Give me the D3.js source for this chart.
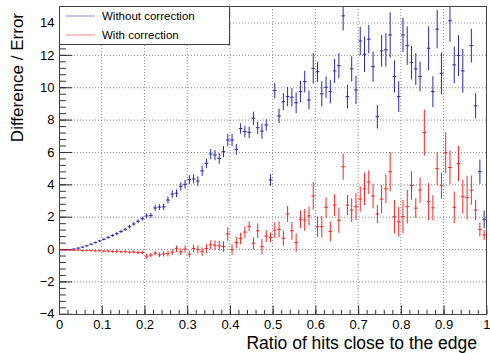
<!DOCTYPE html>
<html>
<head>
<meta charset="utf-8">
<script src="https://cdn.jsdelivr.net/npm/d3@7"></script>
<style>
	body { margin: 0; background: #fff; }
	svg { display: block; }
	text { font-family: "Liberation Sans", Arial, Helvetica, sans-serif; fill: #000; }
</style>
</head>
<body>
<svg id="chart" width="490" height="353"></svg>
<script>
"use strict"

// histogram binning along x
var nBins = 100;
var xLo = 0, xHi = 1;

// difference / error, no correction applied (null = off scale)
var withoutVals = [
	-0.05, -0.05, -0.04, 0.0, 0.06, 0.12, 0.2, 0.3, 0.4, 0.5,
	0.6, 0.72, 0.84, 0.95, 1.08, 1.22, 1.38, 1.55, 1.72, 1.88,
	2.05, 2.08, 2.54, 2.59, 2.61, 3.03, 3.4, 3.45, 3.88, 4.0,
	4.29, 4.33, 4.2, 4.83, 5.3, 5.87, 5.81, 5.6, 6.02, 6.74,
	6.74, 6.16, 7.45, 7.26, 7.21, 8.08, 7.5, 7.29, 7.67, 4.27,
	9.79, 8.23, 9.11, 9.42, 9.38, 9.04, 9.73, 10.35, 9.21, 11.17,
	10.96, 9.59, 10.0, 9.73, 11.01, 11.33, 14.41, 9.42, 11.13, 9.83,
	12.86, 12.04, 12.97, 11.27, 8.18, 12.25, 12.31, 13.23, 10.66, 9.42,
	13.23, 12.57, 11.52, 11.13, 10.66, null, 12.41, 9.73, 13.59, 10.86,
	null, 14.11, 11.38, 11.96, 11.01, null, 12.57, 8.85, 4.78, 1.84
];
var withoutErrs = [
	0.04, 0.04, 0.04, 0.04, 0.05, 0.05, 0.05, 0.06, 0.06, 0.07,
	0.07, 0.08, 0.08, 0.09, 0.09, 0.1, 0.11, 0.11, 0.12, 0.13,
	0.15, 0.16, 0.18, 0.18, 0.2, 0.22, 0.23, 0.24, 0.26, 0.27,
	0.28, 0.28, 0.3, 0.31, 0.3, 0.32, 0.32, 0.33, 0.34, 0.38,
	0.38, 0.33, 0.32, 0.35, 0.35, 0.41, 0.38, 0.47, 0.35, 0.36,
	0.49, 0.45, 0.53, 0.6, 0.57, 0.64, 0.67, 0.67, 0.58, 0.95,
	0.62, 0.78, 0.67, 0.73, 0.75, 0.78, 0.9, 0.73, 0.78, 0.87,
	0.88, 1.1, 0.88, 0.93, 0.73, 0.98, 1.04, 1.4, 1.0, 0.95,
	1.06, 1.19, 1.04, 0.98, 0.93, 0, 1.35, 0.95, 1.19, 1.3,
	0, 1.3, 1.14, 1.26, 1.35, 0, 1.04, 0.78, 0.75, 0.55
];

// difference / error after the correction
var withVals = [
	-0.04, -0.06, -0.05, -0.07, -0.06, -0.09, -0.08, -0.1, -0.11, -0.1,
	-0.13, -0.12, -0.15, -0.14, -0.17, -0.16, -0.19, -0.18, -0.21, -0.21,
	-0.44, -0.37, -0.25, -0.36, -0.3, -0.28, -0.19, 0.02, -0.17, 0.0,
	-0.32, 0.04, -0.02, -0.16, 0.03, 0.26, 0.24, 0.2, 0.15, 0.93,
	-0.04, 0.4, 0.65, 1.05, 1.41, 0.36, 1.13, 0.15, 0.8, 0.72,
	1.17, 1.22, 0.67, 2.17, 1.13, 0.4, 1.84, 1.8, 2.05, 3.28,
	1.38, 1.38, 2.58, 1.09, 2.72, 1.78, 5.09, 2.72, 2.41, 2.62,
	3.09, 3.72, 4.14, 3.28, 2.17, 3.09, 3.72, 4.78, 2.0, 1.69,
	2.0, 2.62, 3.93, 2.53, 3.65, 7.2, 2.93, 2.55, 4.97, 3.92,
	5.95, 5.04, 2.58, 5.28, 3.24, 3.18, 3.64, 2.41, 1.22, 0.87
];
var withErrs = [
	0.03, 0.03, 0.04, 0.04, 0.04, 0.05, 0.05, 0.05, 0.06, 0.06,
	0.07, 0.07, 0.08, 0.08, 0.08, 0.09, 0.09, 0.1, 0.1, 0.11,
	0.17, 0.13, 0.14, 0.15, 0.16, 0.17, 0.18, 0.2, 0.2, 0.22,
	0.2, 0.24, 0.25, 0.26, 0.27, 0.28, 0.3, 0.3, 0.32, 0.42,
	0.33, 0.35, 0.36, 0.35, 0.3, 0.37, 0.45, 0.47, 0.37, 0.31,
	0.49, 0.49, 0.47, 0.49, 0.55, 0.57, 0.55, 0.67, 0.58, 0.85,
	0.62, 0.67, 0.62, 0.62, 0.67, 0.78, 0.81, 0.62, 0.73, 0.83,
	0.78, 1.0, 0.73, 0.76, 0.57, 0.88, 0.88, 1.22, 1.04, 0.91,
	1.04, 1.04, 0.88, 0.62, 0.78, 1.42, 1.14, 0.78, 1.02, 0.8,
	1.26, 1.04, 0.98, 1.09, 1.04, 1.35, 0.9, 0.64, 0.43, 0.3
];

var xMajor = [0, 0.1, 0.2, 0.3, 0.4, 0.5, 0.6, 0.7, 0.8, 0.9, 1];
var yMajor = [-4, -2, 0, 2, 4, 6, 8, 10, 12, 14];
var seriesNames = ["Without correction", "With correction"];
var seriesColors = ["#2a2aa8", "#f02828"];

var frame = {left: 59, top: 6, right: 487, bottom: 314};

var x = d3.scaleLinear()
	.domain([xLo, xHi])
	.range([frame.left, frame.right - 0.7]);
var y = d3.scaleLinear()
	.domain([-4, 15.02])
	.range([frame.bottom - 0.2, frame.top]);

var svg = d3.select("#chart");
var binW = (xHi - xLo) / nBins;

svg.append("defs")
	.append("clipPath")
	.attr("id", "frameClip")
	.append("rect")
	.attr("x", frame.left)
	.attr("y", frame.top)
	.attr("width", frame.right - frame.left)
	.attr("height", frame.bottom - frame.top)
	;

// dotted grid at the major ticks
var grid = svg.append("g")
	.attr("stroke", "#8a8a8a")
	.attr("stroke-width", 1)
	.attr("stroke-dasharray", "1,2")
	;
grid.selectAll("line.gx")
	.data(xMajor.slice(1, -1))
	.enter().append("line")
	.attr("class", "gx")
	.attr("x1", function(d) { return x(d); })
	.attr("x2", function(d) { return x(d); })
	.attr("y1", frame.top)
	.attr("y2", frame.bottom)
	;
grid.selectAll("line.gy")
	.data(yMajor.slice(1))
	.enter().append("line")
	.attr("class", "gy")
	.attr("x1", frame.left)
	.attr("x2", frame.right)
	.attr("y1", function(d) { return y(d) + 0.5; })
	.attr("y2", function(d) { return y(d) + 0.5; })
	;

// axes, ticks point into the frame
var xMinor = d3.range(0, 51).map(function(i) { return i * 0.02; });
var yMinor = d3.range(0, 48).map(function(i) { return -4 + i * 0.4; });

var xAxisG = svg.append("g")
	.attr("transform", "translate(0," + (frame.bottom + 0.5) + ")")
	;
xAxisG.append("g")
	.call(d3.axisBottom(x).tickValues(xMinor).tickSize(-4.6).tickSizeOuter(0).tickFormat(""))
	;
xAxisG.append("g")
	.call(d3.axisBottom(x).tickValues(xMajor).tickSize(-9.2).tickSizeOuter(0).tickPadding(5)
		.tickFormat(function(d) { return d == 0 || d == 1 ? d3.format("d")(d) : d3.format(".1f")(d); }))
	;
xAxisG.selectAll("text")
	.attr("font-size", 13)
	;

var yAxisG = svg.append("g")
	.attr("transform", "translate(" + (frame.left + 0.5) + ",0)")
	;
yAxisG.append("g")
	.call(d3.axisLeft(y).tickValues(yMinor).tickSize(-6.4).tickSizeOuter(0).tickFormat(""))
	;
yAxisG.append("g")
	.call(d3.axisLeft(y).tickValues(yMajor).tickSize(-12.8).tickSizeOuter(0).tickPadding(5)
		.tickFormat(d3.format("d")))
	;
yAxisG.selectAll("text")
	.attr("font-size", 13)
	;
svg.selectAll(".domain").remove();
svg.selectAll(".tick line")
	.attr("stroke", "#333")
	;

// points with error bars, one group per series
function drawSeries(vals, errs, color) {
	var pts = vals.map(function(v, i) {
		return {xc: xLo + (i + 0.5) * binW, v: v, e: errs[i]};
	}).filter(function(d) { return d.v != null; });
	var g = svg.append("g")
		.attr("clip-path", "url(#frameClip)")
		.attr("stroke", color)
		.attr("stroke-width", 1)
		;
	g.selectAll("line.ex")
		.data(pts)
		.enter().append("line")
		.attr("class", "ex")
		.attr("x1", function(d) { return x(d.xc - binW / 2) + 0.3; })
		.attr("x2", function(d) { return x(d.xc + binW / 2) - 0.3; })
		.attr("y1", function(d) { return y(d.v); })
		.attr("y2", function(d) { return y(d.v); })
		;
	g.selectAll("line.ey")
		.data(pts.filter(function(d) { return d.e > 0; }))
		.enter().append("line")
		.attr("class", "ey")
		.attr("x1", function(d) { return x(d.xc); })
		.attr("x2", function(d) { return x(d.xc); })
		.attr("y1", function(d) { return y(d.v - d.e); })
		.attr("y2", function(d) { return y(d.v + d.e); })
		;
}
drawSeries(withoutVals, withoutErrs, seriesColors[0]);
drawSeries(withVals, withErrs, seriesColors[1]);

// frame
svg.append("rect")
	.attr("x", frame.left + 0.5)
	.attr("y", frame.top + 0.5)
	.attr("width", frame.right - frame.left - 1)
	.attr("height", frame.bottom - frame.top)
	.attr("fill", "none")
	.attr("stroke", "#444")
	.attr("stroke-width", 1)
	;

// legend
var leg = svg.append("g");
leg.append("rect")
	.attr("x", frame.left + 0.5)
	.attr("y", frame.top + 0.5)
	.attr("width", 170)
	.attr("height", 38)
	.attr("fill", "#fff")
	.attr("stroke", "#444")
	.attr("stroke-width", 1)
	;
seriesNames.forEach(function(name, k) {
	var ly = 16 + k * 19;
	leg.append("line")
		.attr("x1", 66)
		.attr("x2", 95)
		.attr("y1", ly)
		.attr("y2", ly)
		.attr("stroke", seriesColors[k])
		.attr("stroke-opacity", 0.55)
		.attr("stroke-width", 1)
		;
	leg.append("text")
		.attr("x", 102)
		.attr("y", ly + 4)
		.attr("font-size", 11.5)
		.text(name)
		;
});

// axis titles
svg.append("text")
	.attr("x", 477)
	.attr("y", 349)
	.attr("text-anchor", "end")
	.attr("font-size", 17.5)
	.text("Ratio of hits close to the edge")
	;
svg.append("text")
	.attr("transform", "translate(23,13) rotate(-90)")
	.attr("text-anchor", "end")
	.attr("font-size", 17)
	.text("Difference / Error")
	;
</script>
</body>
</html>
